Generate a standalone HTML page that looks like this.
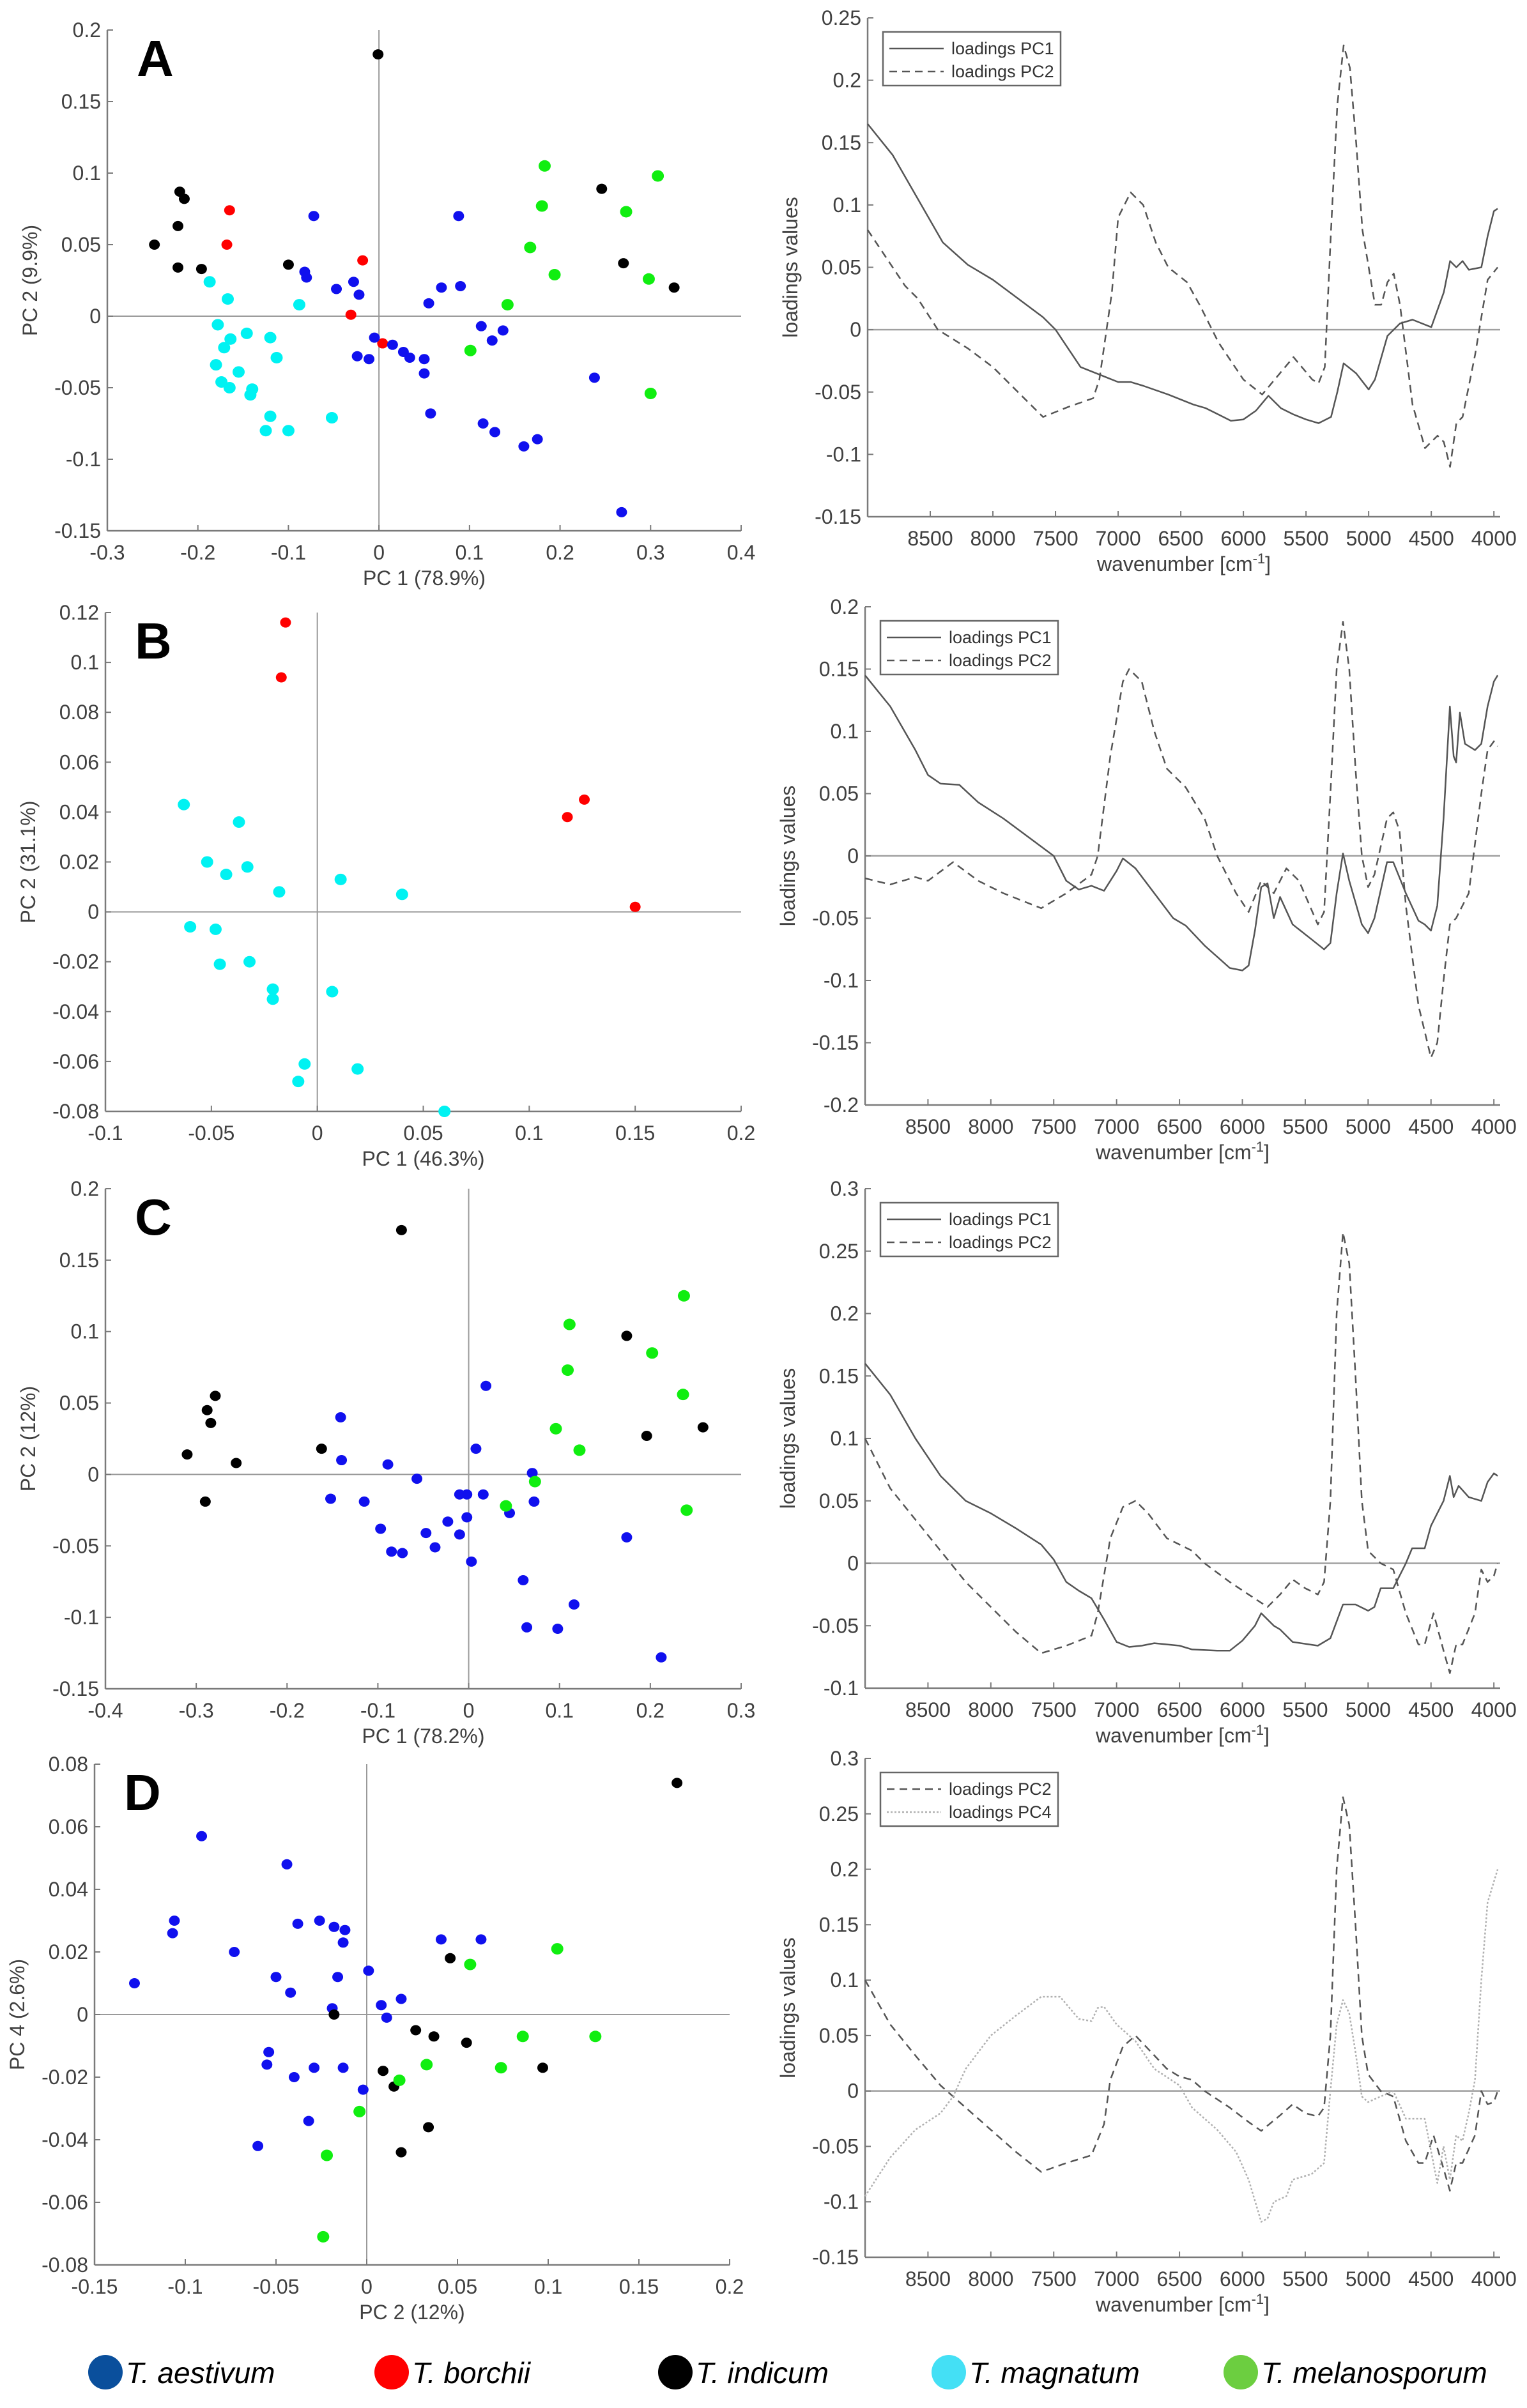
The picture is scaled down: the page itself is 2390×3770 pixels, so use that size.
<!DOCTYPE html>
<html><head><meta charset="utf-8">
<style>
html,body{margin:0;padding:0;background:#fff;}
svg{display:block;font-family:"Liberation Sans",Arial,sans-serif;}
</style></head>
<body>
<svg id="fig" width="2390" height="3770" viewBox="0 0 2390 3770" xmlns="http://www.w3.org/2000/svg"></svg>
<script>
// ---------- Scatter data ----------
const aBlackX=[-0.22,-0.215,-0.222,-0.248,-0.222,-0.196,-0.1,-0.001,0.246,0.27,0.326];
const aBlackY=[0.087,0.082,0.063,0.05,0.034,0.033,0.036,0.183,0.089,0.037,0.02];
const aRedX=[-0.165,-0.168,-0.018,-0.031,0.004];
const aRedY=[0.074,0.05,0.039,0.001,-0.019];
const aBlueX=[-0.072,-0.082,-0.08,-0.047,-0.028,-0.022,-0.005,-0.024,-0.011,0.015,0.027,0.034,0.05,0.05,0.055,0.069,0.088,0.09,0.113,0.125,0.137,0.057,0.115,0.128,0.16,0.175,0.238,0.268];
const aBlueY=[0.07,0.031,0.027,0.019,0.024,0.015,-0.015,-0.028,-0.03,-0.02,-0.025,-0.029,-0.03,-0.04,0.009,0.02,0.07,0.021,-0.007,-0.017,-0.01,-0.068,-0.075,-0.081,-0.091,-0.086,-0.043,-0.137];
const aGreenX=[0.183,0.18,0.167,0.194,0.142,0.101,0.308,0.273,0.298,0.3];
const aGreenY=[0.105,0.077,0.048,0.029,0.008,-0.024,0.098,0.073,0.026,-0.054];
const aCyanX=[-0.187,-0.167,-0.088,-0.178,-0.146,-0.164,-0.12,-0.171,-0.113,-0.18,-0.155,-0.174,-0.165,-0.14,-0.142,-0.12,-0.125,-0.1,-0.052];
const aCyanY=[0.024,0.012,0.008,-0.006,-0.012,-0.016,-0.015,-0.022,-0.029,-0.034,-0.039,-0.046,-0.05,-0.051,-0.055,-0.07,-0.08,-0.08,-0.071];

const bRedX=[-0.015,-0.017,0.118,0.126,0.15];
const bRedY=[0.116,0.094,0.038,0.045,0.002];
const bCyanX=[-0.063,-0.037,-0.052,-0.043,-0.033,-0.018,0.011,0.04,-0.06,-0.048,-0.046,-0.032,-0.021,-0.021,0.007,-0.006,0.019,-0.009,0.06];
const bCyanY=[0.043,0.036,0.02,0.015,0.018,0.008,0.013,0.007,-0.006,-0.007,-0.021,-0.02,-0.031,-0.035,-0.032,-0.061,-0.063,-0.068,-0.08];

const cBlackX=[-0.074,-0.31,-0.288,-0.284,-0.279,-0.256,-0.29,-0.162,0.174,0.196,0.258];
const cBlackY=[0.171,0.014,0.045,0.036,0.055,0.008,-0.019,0.018,0.097,0.027,0.033];
const cGreenX=[0.111,0.109,0.096,0.122,0.073,0.041,0.237,0.202,0.236,0.24];
const cGreenY=[0.105,0.073,0.032,0.017,-0.005,-0.022,0.125,0.085,0.056,-0.025];
const cBlueX=[-0.141,-0.14,-0.089,-0.057,0.019,0.008,0.07,-0.152,-0.115,-0.01,-0.002,0.016,0.072,0.045,-0.023,-0.002,-0.097,-0.047,-0.01,-0.037,-0.085,-0.073,0.003,0.06,0.174,0.116,0.064,0.098,0.212];
const cBlueY=[0.04,0.01,0.007,-0.003,0.062,0.018,0.001,-0.017,-0.019,-0.014,-0.014,-0.014,-0.019,-0.027,-0.033,-0.03,-0.038,-0.041,-0.042,-0.051,-0.054,-0.055,-0.061,-0.074,-0.044,-0.091,-0.107,-0.108,-0.128];

const dBlueX=[-0.128,-0.107,-0.106,-0.091,-0.073,-0.044,-0.05,-0.042,-0.038,-0.026,-0.018,-0.012,-0.013,-0.016,-0.019,0.001,0.008,0.011,0.019,0.041,0.063,-0.054,-0.055,-0.04,-0.029,-0.013,-0.002,-0.032,-0.06];
const dBlueY=[0.01,0.026,0.03,0.057,0.02,0.048,0.012,0.007,0.029,0.03,0.028,0.027,0.023,0.012,0.002,0.014,0.003,-0.001,0.005,0.024,0.024,-0.012,-0.016,-0.02,-0.017,-0.017,-0.024,-0.034,-0.042];
const dBlackX=[-0.018,0.027,0.037,0.046,0.055,0.009,0.015,0.034,0.019,0.097,0.171];
const dBlackY=[0,-0.005,-0.007,0.018,-0.009,-0.018,-0.023,-0.036,-0.044,-0.017,0.074];
const dGreenX=[0.057,0.105,0.086,0.126,0.033,0.074,0.018,-0.004,-0.022,-0.024];
const dGreenY=[0.016,0.021,-0.007,-0.007,-0.016,-0.017,-0.021,-0.031,-0.045,-0.071];

// ---------- Loadings data ----------
const aPC1W=[9000,8800,8600,8400,8200,8000,7800,7600,7500,7400,7300,7100,7000,6900,6800,6600,6400,6300,6200,6100,6000,5900,5800,5700,5600,5500,5400,5300,5250,5200,5100,5000,4950,4850,4750,4650,4500,4400,4350,4300,4250,4200,4100,4050,4000,3970];
const aPC1V=[0.165,0.14,0.105,0.07,0.052,0.04,0.025,0.01,0,-0.015,-0.03,-0.038,-0.042,-0.042,-0.045,-0.052,-0.06,-0.063,-0.068,-0.073,-0.072,-0.065,-0.053,-0.063,-0.068,-0.072,-0.075,-0.07,-0.05,-0.027,-0.035,-0.048,-0.04,-0.005,0.005,0.008,0.002,0.03,0.055,0.05,0.055,0.048,0.05,0.075,0.095,0.097];
const aPC2W=[9000,8800,8700,8600,8440,8200,8000,7800,7600,7400,7200,7150,7050,7000,6900,6800,6700,6600,6450,6350,6200,6000,5850,5750,5600,5450,5400,5350,5300,5250,5200,5150,5100,5050,4950,4900,4850,4800,4750,4650,4550,4450,4400,4350,4300,4250,4150,4100,4050,3970];
const aPC2V=[0.08,0.05,0.035,0.025,0,-0.015,-0.03,-0.05,-0.07,-0.062,-0.055,-0.04,0.03,0.09,0.11,0.1,0.07,0.05,0.038,0.02,-0.01,-0.04,-0.052,-0.04,-0.022,-0.04,-0.043,-0.03,0.08,0.18,0.228,0.21,0.15,0.08,0.02,0.02,0.038,0.045,0.02,-0.06,-0.095,-0.085,-0.09,-0.11,-0.075,-0.07,-0.02,0.01,0.04,0.05];

const bPC1W=[9000,8800,8600,8500,8400,8250,8100,7900,7700,7500,7400,7300,7200,7100,7000,6950,6850,6700,6550,6450,6300,6100,6000,5950,5900,5850,5800,5750,5700,5600,5450,5350,5300,5250,5200,5150,5050,5000,4950,4850,4800,4700,4600,4550,4500,4450,4400,4350,4320,4300,4270,4230,4150,4100,4050,4000,3970];
const bPC1V=[0.145,0.12,0.085,0.065,0.058,0.057,0.043,0.03,0.015,0,-0.02,-0.027,-0.024,-0.028,-0.012,-0.002,-0.01,-0.03,-0.05,-0.056,-0.072,-0.09,-0.092,-0.088,-0.06,-0.025,-0.022,-0.05,-0.033,-0.055,-0.067,-0.075,-0.07,-0.03,0.002,-0.02,-0.055,-0.062,-0.05,-0.005,-0.005,-0.03,-0.052,-0.055,-0.06,-0.04,0.03,0.12,0.08,0.075,0.115,0.09,0.085,0.09,0.12,0.14,0.145];
const bPC2W=[9000,8800,8600,8500,8300,8100,7900,7600,7400,7200,7150,7050,6950,6900,6800,6700,6600,6450,6300,6200,6050,5950,5850,5750,5650,5550,5400,5350,5300,5250,5200,5150,5100,5050,5000,4950,4850,4800,4750,4700,4600,4500,4450,4400,4350,4300,4200,4100,4050,4000,3970];
const bPC2V=[-0.018,-0.023,-0.017,-0.02,-0.005,-0.02,-0.03,-0.042,-0.03,-0.015,0,0.08,0.14,0.15,0.14,0.1,0.07,0.055,0.03,0,-0.03,-0.045,-0.02,-0.03,-0.01,-0.02,-0.055,-0.045,0.05,0.15,0.188,0.15,0.07,0,-0.025,-0.015,0.03,0.035,0.02,-0.04,-0.12,-0.162,-0.15,-0.1,-0.055,-0.05,-0.03,0.05,0.085,0.092,0.088];

const cPC1W=[9000,8800,8600,8400,8200,8000,7800,7600,7500,7400,7300,7200,7100,7000,6900,6800,6700,6500,6400,6200,6100,6000,5900,5850,5800,5750,5700,5600,5400,5300,5200,5100,5000,4950,4900,4800,4700,4650,4550,4500,4400,4350,4320,4280,4200,4100,4050,4000,3970];
const cPC1V=[0.16,0.135,0.1,0.07,0.05,0.04,0.028,0.015,0.003,-0.015,-0.022,-0.028,-0.045,-0.063,-0.067,-0.066,-0.064,-0.066,-0.069,-0.07,-0.07,-0.062,-0.05,-0.04,-0.045,-0.05,-0.053,-0.063,-0.066,-0.06,-0.033,-0.033,-0.038,-0.035,-0.02,-0.02,0,0.012,0.012,0.03,0.05,0.07,0.053,0.062,0.053,0.05,0.065,0.072,0.07];
const cPC2W=[9000,8800,8600,8400,8200,8000,7800,7600,7400,7200,7150,7050,6950,6850,6750,6600,6400,6300,6100,5950,5800,5700,5600,5500,5400,5350,5300,5250,5200,5150,5100,5050,5000,4900,4800,4700,4600,4550,4480,4400,4350,4300,4250,4150,4100,4050,4000,3970];
const cPC2V=[0.1,0.06,0.035,0.01,-0.015,-0.035,-0.055,-0.072,-0.066,-0.058,-0.04,0.02,0.045,0.05,0.04,0.02,0.01,0,-0.015,-0.025,-0.035,-0.025,-0.013,-0.02,-0.025,-0.015,0.05,0.2,0.265,0.24,0.15,0.05,0.01,0,-0.005,-0.04,-0.065,-0.065,-0.04,-0.07,-0.088,-0.065,-0.065,-0.04,-0.005,-0.015,-0.01,0];

const dPC2W=[9000,8800,8600,8400,8250,8000,7800,7600,7400,7200,7100,7050,6950,6850,6750,6600,6500,6400,6300,6100,5950,5850,5700,5600,5500,5400,5350,5300,5250,5200,5150,5100,5050,5000,4900,4800,4700,4600,4550,4480,4400,4350,4300,4250,4150,4100,4050,4000,3970];
const dPC2V=[0.1,0.06,0.032,0.005,-0.01,-0.035,-0.055,-0.073,-0.065,-0.058,-0.03,0.01,0.04,0.05,0.038,0.02,0.013,0.01,0,-0.015,-0.028,-0.036,-0.022,-0.012,-0.02,-0.023,-0.015,0.05,0.2,0.265,0.24,0.15,0.05,0.015,0,-0.005,-0.045,-0.065,-0.065,-0.04,-0.07,-0.09,-0.065,-0.065,-0.04,0,-0.012,-0.01,0];
const dPC4W=[9000,8800,8600,8400,8300,8200,8000,7800,7600,7450,7300,7200,7150,7100,7000,6850,6700,6500,6400,6200,6050,5950,5850,5800,5750,5650,5600,5450,5350,5300,5250,5200,5150,5100,5050,5000,4900,4800,4700,4550,4450,4400,4350,4300,4250,4200,4150,4100,4050,3970];
const dPC4V=[-0.095,-0.06,-0.035,-0.02,-0.005,0.02,0.05,0.068,0.085,0.085,0.065,0.063,0.075,0.076,0.06,0.045,0.02,0.005,-0.015,-0.035,-0.055,-0.08,-0.118,-0.115,-0.1,-0.095,-0.08,-0.075,-0.065,0,0.06,0.082,0.07,0.035,-0.005,-0.01,-0.005,0,-0.025,-0.025,-0.083,-0.05,-0.08,-0.04,-0.045,-0.02,0.01,0.1,0.17,0.2];

// tick labels
const aXTicks=[-0.3,-0.2,-0.1,0,0.1,0.2,0.3,0.4];
const aYTicks=[-0.15,-0.1,-0.05,0,0.05,0.1,0.15,0.2];
const bXTicks=[-0.1,-0.05,0,0.05,0.1,0.15,0.2];
const bYTicks=[-0.08,-0.06,-0.04,-0.02,0,0.02,0.04,0.06,0.08,0.1,0.12];
const cXTicks=[-0.4,-0.3,-0.2,-0.1,0,0.1,0.2,0.3];
const cYTicks=[-0.15,-0.1,-0.05,0,0.05,0.1,0.15,0.2];
const dXTicks=[-0.15,-0.1,-0.05,0,0.05,0.1,0.15,0.2];
const dYTicks=[-0.08,-0.06,-0.04,-0.02,0,0.02,0.04,0.06,0.08];
const wTicks=[8500,8000,7500,7000,6500,6000,5500,5000,4500,4000];
const laYTicks=[-0.15,-0.1,-0.05,0,0.05,0.1,0.15,0.2,0.25];
const lbYTicks=[-0.2,-0.15,-0.1,-0.05,0,0.05,0.1,0.15,0.2];
const lcYTicks=[-0.1,-0.05,0,0.05,0.1,0.15,0.2,0.25,0.3];
const ldYTicks=[-0.15,-0.1,-0.05,0,0.05,0.1,0.15,0.2,0.25,0.3];

const species=["T. aestivum","T. borchii","T. indicum","T. magnatum","T. melanosporum"];
const speciesColors=["#0a4f9c","#ff0000","#000000","#44e0f5","#6cce40"];

const C={blue:"#1010ee",red:"#ff0000",black:"#000000",cyan:"#00f2f2",green:"#10ee10"};
const NS="http://www.w3.org/2000/svg";
const svg=document.getElementById('fig');
function mk(tag,attrs,parent){const e=document.createElementNS(NS,tag);for(const k in attrs)e.setAttribute(k,attrs[k]);(parent||svg).appendChild(e);return e;}
function fmt(v){let s=String(+v.toFixed(3));return s;}

function axes(g,p){
  const sx=v=>p.px0+(v-p.xd0)/(p.xd1-p.xd0)*(p.px1-p.px0);
  const sy=v=>p.py1-(v-p.yd0)/(p.yd1-p.yd0)*(p.py1-p.py0);
  return [sx,sy];
}
function drawFrame(g,p,sx,sy,xt,yt,xlab,ylab,lab){
  const ax=mk('line',{x1:p.px0,y1:p.py0,x2:p.px0,y2:p.py1,stroke:'#7a7a7a','stroke-width':2.5},g);
  
  const bx=mk('line',{x1:p.px0,y1:p.py1,x2:p.px1,y2:p.py1,stroke:'#7a7a7a','stroke-width':2.5},g);
  
  xt.forEach(v=>{
    const x=sx(v);
    mk('line',{x1:x,y1:p.py1,x2:x,y2:p.py1-9,stroke:'#7a7a7a','stroke-width':2},g);
    const t=mk('text',{x:x,y:p.py1+45,'text-anchor':'middle','font-size':32,fill:'#404040'},g);
    t.textContent=p.loads?String(v):fmt(v);
    
  });
  yt.forEach(v=>{
    const y=sy(v);
    mk('line',{x1:p.px0,y1:y,x2:p.px0+9,y2:y,stroke:'#7a7a7a','stroke-width':2},g);
    const t=mk('text',{x:p.px0-10,y:y+11,'text-anchor':'end','font-size':32,fill:'#404040'},g);
    t.textContent=fmt(v);
    
  });
  const xl=mk('text',{x:(p.px0+p.px1)/2,y:p.py1+85,'text-anchor':'middle','font-size':32,fill:'#404040'},g);
  if(p.loads){xl.innerHTML='wavenumber [cm<tspan dy="-12" font-size="22">-1</tspan><tspan dy="12">]</tspan>';}
  else xl.textContent=xlab;
  
  const cy=(p.py0+p.py1)/2;
  const yl=mk('text',{x:p.px0-110,y:cy,'text-anchor':'middle','font-size':32,fill:'#404040',transform:`rotate(-90 ${p.px0-110} ${cy})`},g);
  yl.setAttribute('x',p.px0-110);
  yl.textContent=ylab;
  
  if(lab){
    const l=mk('text',{x:p.px0+46,y:p.py0+72,'font-size':80,'font-weight':'bold',fill:'#000'},g);
    l.textContent=lab;
    
  }
}

function scatter(p,xt,yt,xlab,ylab,lab,series){
  const g=mk('g',{});
  
  
  const [sx,sy]=axes(g,p);
  // zero lines
  mk('line',{x1:sx(0),y1:p.py0,x2:sx(0),y2:p.py1,stroke:'#9a9a9a','stroke-width':2},g);
  mk('line',{x1:p.px0,y1:sy(0),x2:p.px1,y2:sy(0),stroke:'#9a9a9a','stroke-width':2},g);
  drawFrame(g,p,sx,sy,xt,yt,xlab,ylab,lab);
  series.forEach(s=>{
    s.x.forEach((v,i)=>{
      const big=(s.c===C.cyan||s.c===C.green);
      const e=mk('ellipse',{cx:sx(v),cy:sy(s.y[i]),rx:big?9.5:8.5,ry:big?9:8,fill:s.c},g);
      
      
    });
  });
}

function loadings(p,yt,series,legendNames){
  const g=mk('g',{});
  
  
  p.xd0=9000;p.xd1=3950;p.loads=true;
  const [sx,sy]=axes(g,p);
  mk('line',{x1:p.px0,y1:sy(0),x2:p.px1,y2:sy(0),stroke:'#a0a0a0','stroke-width':2.5},g);
  drawFrame(g,p,sx,sy,wTicks,yt,'','loadings values',null);
  series.forEach(s=>{
    const d=s.w.map((w,i)=>(i?'L':'M')+sx(w).toFixed(1)+','+sy(s.v[i]).toFixed(1)).join('');
    const e=mk('path',{d:d,fill:'none',stroke:s.col,'stroke-width':s.sw,'stroke-dasharray':s.dash,'stroke-linejoin':'round'},g);
    
    
  });
  const lx=p.px0+24, ly=p.py0+22;
  const box=mk('rect',{x:lx,y:ly,width:278,height:84,fill:'#fff',stroke:'#666','stroke-width':2.5},g);
  
  series.forEach((s,i)=>{
    const yy=ly+26+i*36;
    mk('line',{x1:lx+10,y1:yy,x2:lx+95,y2:yy,stroke:s.col,'stroke-width':s.sw,'stroke-dasharray':s.dash},g);
    const t=mk('text',{x:lx+107,y:yy+9,'font-size':27,fill:'#333'},g);
    t.textContent=legendNames[i];
    
  });
}

scatter({px0:168,px1:1160,py0:47,py1:831,xd0:-0.3,xd1:0.4,yd0:-0.15,yd1:0.2},aXTicks,aYTicks,'PC 1 (78.9%)','PC 2 (9.9%)','A',
 [{x:aBlackX,y:aBlackY,c:C.black,n:'indicum'},{x:aRedX,y:aRedY,c:C.red,n:'borchii'},{x:aBlueX,y:aBlueY,c:C.blue,n:'aestivum'},{x:aGreenX,y:aGreenY,c:C.green,n:'melanosporum'},{x:aCyanX,y:aCyanY,c:C.cyan,n:'magnatum'}]);
scatter({px0:165,px1:1160,py0:959,py1:1740,xd0:-0.1,xd1:0.2,yd0:-0.08,yd1:0.12},bXTicks,bYTicks,'PC 1 (46.3%)','PC 2 (31.1%)','B',
 [{x:bRedX,y:bRedY,c:C.red,n:'borchii'},{x:bCyanX,y:bCyanY,c:C.cyan,n:'magnatum'}]);
scatter({px0:165,px1:1160,py0:1861,py1:2644,xd0:-0.4,xd1:0.3,yd0:-0.15,yd1:0.2},cXTicks,cYTicks,'PC 1 (78.2%)','PC 2 (12%)','C',
 [{x:cBlackX,y:cBlackY,c:C.black,n:'indicum'},{x:cBlueX,y:cBlueY,c:C.blue,n:'aestivum'},{x:cGreenX,y:cGreenY,c:C.green,n:'melanosporum'}]);
scatter({px0:148,px1:1142,py0:2762,py1:3546,xd0:-0.15,xd1:0.2,yd0:-0.08,yd1:0.08},dXTicks,dYTicks,'PC 2 (12%)','PC 4 (2.6%)','D',
 [{x:dBlueX,y:dBlueY,c:C.blue,n:'aestivum'},{x:dBlackX,y:dBlackY,c:C.black,n:'indicum'},{x:dGreenX,y:dGreenY,c:C.green,n:'melanosporum'}]);

const solid={col:'#555',sw:2.5,dash:'none'}, dashed={col:'#555',sw:2.5,dash:'12 8'}, dotted={col:'#b0b0b0',sw:2.5,dash:'3 3'};
loadings({px0:1358,px1:2348,py0:28,py1:809,yd0:-0.15,yd1:0.25},laYTicks,
 [Object.assign({w:aPC1W,v:aPC1V,n:'pc1'},solid),Object.assign({w:aPC2W,v:aPC2V,n:'pc2'},dashed)],['loadings PC1','loadings PC2']);
loadings({px0:1354,px1:2348,py0:950,py1:1730,yd0:-0.2,yd1:0.2},lbYTicks,
 [Object.assign({w:bPC1W,v:bPC1V,n:'pc1'},solid),Object.assign({w:bPC2W,v:bPC2V,n:'pc2'},dashed)],['loadings PC1','loadings PC2']);
loadings({px0:1354,px1:2348,py0:1861,py1:2643,yd0:-0.1,yd1:0.3},lcYTicks,
 [Object.assign({w:cPC1W,v:cPC1V,n:'pc1'},solid),Object.assign({w:cPC2W,v:cPC2V,n:'pc2'},dashed)],['loadings PC1','loadings PC2']);
loadings({px0:1354,px1:2348,py0:2753,py1:3534,yd0:-0.15,yd1:0.3},ldYTicks,
 [Object.assign({w:dPC2W,v:dPC2V,n:'pc2'},dashed),Object.assign({w:dPC4W,v:dPC4V,n:'pc4'},dotted)],['loadings PC2','loadings PC4']);

// species legend
const legX=[165,613,1057,1485,1942];
const lg=mk('g',{});


species.forEach((s,i)=>{
  const c=mk('ellipse',{cx:legX[i],cy:3714,rx:27,ry:27,fill:speciesColors[i]},lg);
  
  const t=mk('text',{x:legX[i]+32,y:3731,'font-size':46,'font-style':'italic',fill:'#000'},lg);
  t.textContent=s;
  
});
</script>
</body></html>
